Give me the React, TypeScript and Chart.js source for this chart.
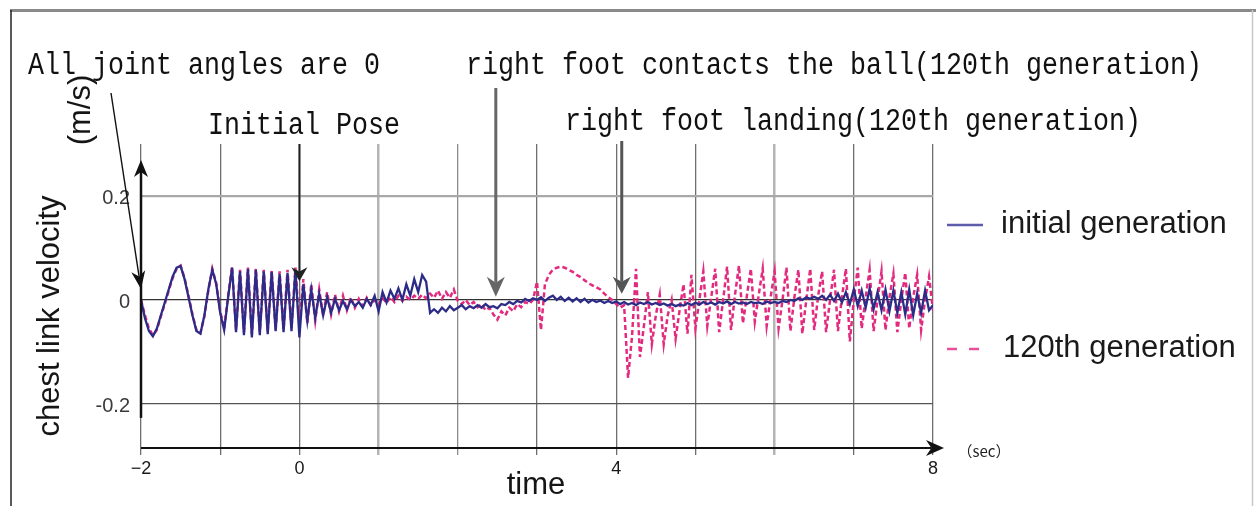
import React, { useEffect, useRef } from 'react';
import { Chart, registerables } from 'chart.js';

Chart.register(...registerables);

// ---- data ----
const startTime = -2; // sec
const sampleStep = 0.05; // sec
const seriesNames = ['initial generation', '120th generation'];

const initialVelocity = [
  0, -0.035, -0.06, -0.07, -0.055, -0.03, -0.005, 0.02, 0.045, 0.062,
  0.065, 0.04, 0.005, -0.03, -0.06, -0.065, -0.03, 0.02, 0.058, 0.03,
  -0.025, -0.058, 0.005, 0.062, -0.062, 0.055, -0.068, 0.06, -0.072, 0.058,
  -0.068, 0.055, -0.066, 0.054, -0.06, 0.05, -0.062, 0.052, -0.06, 0.058,
  -0.072, 0.03, -0.04, 0.02, -0.035, 0.012, -0.03, 0.005, -0.025, 0.002,
  -0.02, -0.002, -0.018, 0, -0.012, -0.004, -0.015, 0.002, -0.01, 0.008,
  -0.022, 0.015, -0.005, 0.018, 0.002, 0.022, 0, 0.03, 0.008, 0.04,
  0.015, 0.048, 0.035, -0.025, -0.018, -0.025, -0.015, -0.022, -0.012, -0.02,
  -0.015, -0.01, -0.018, -0.012, -0.016, -0.01, -0.015, -0.008, -0.014, -0.012,
  -0.016, -0.008, -0.01, -0.004, -0.008, -0.002, -0.005, 0.002, -0.002, 0.003,
  0, 0.005, -0.002, 0.004, 0.008, 0, 0.006, -0.002, 0.004, -0.003,
  0.003, -0.004, 0.002, -0.005, 0, -0.004, -0.001, -0.006, -0.002, -0.006,
  -0.003, -0.008, -0.004, -0.009, -0.006, -0.01, -0.005, -0.008, -0.004, -0.009,
  -0.006, -0.01, -0.007, -0.011, -0.008, -0.012, -0.009, -0.011, -0.006, -0.01,
  -0.005, -0.009, -0.004, -0.008, -0.005, -0.009, -0.004, -0.007, -0.003, -0.008,
  -0.004, -0.007, -0.005, -0.008, -0.004, -0.006, -0.005, -0.008, -0.003, -0.006,
  -0.004, -0.006, -0.002, -0.004, 0, -0.002, 0.003, 0, 0.005, 0.002,
  0.006, 0.002, 0.008, 0, 0.01, -0.002, 0.012, -0.005, 0.015, -0.008,
  0.02, -0.012, 0.018, -0.015, 0.022, -0.018, 0.015, -0.02, 0.02, -0.022,
  0.018, -0.025, 0.015, -0.028, 0.02, -0.03, 0.012, -0.025, 0.018, -0.02,
  -0.01,
];

const gen120Velocity = [
  0, -0.03, -0.055, -0.068, -0.058, -0.032, -0.008, 0.018, 0.042, 0.06,
  0.066, 0.042, 0.008, -0.028, -0.058, -0.064, -0.032, 0.018, 0.06, 0.032,
  -0.022, -0.055, 0.008, 0.064, -0.058, 0.058, -0.062, 0.062, -0.066, 0.06,
  -0.062, 0.058, -0.06, 0.056, -0.058, 0.055, -0.058, 0.058, -0.055, 0.062,
  -0.05, 0.04, -0.045, 0.03, -0.04, 0.02, -0.03, 0.015, -0.028, 0.01,
  -0.022, 0.008, -0.02, 0.005, -0.015, 0.002, -0.012, 0.004, -0.01, 0,
  -0.008, 0.004, -0.006, 0.006, -0.004, 0.008, -0.002, 0.006, 0, 0.008,
  0.002, 0.01, 0.003, 0.012, 0.004, 0.018, 0.002, 0.015, 0.004, 0.02,
  -0.002, -0.008, 0, -0.01, -0.004, -0.014, -0.008, -0.02, -0.015, -0.028,
  -0.038, -0.022, -0.03, -0.015, -0.022, -0.008, -0.014, -0.004, -0.008, 0,
  0.035, -0.058, 0.03, 0.048, 0.058, 0.062, 0.064, 0.062, 0.058, 0.054,
  0.048, 0.044, 0.038, 0.032, 0.028, 0.024, 0.02, 0.012, 0.005, 0,
  -0.008, -0.015, -0.01, -0.15, -0.07, 0.06, -0.11, -0.05, 0.015, -0.085,
  -0.03, 0.01, -0.085, -0.03, 0, -0.075, -0.02, 0.03, -0.065, 0.048,
  -0.055, 0, 0.055, -0.05, 0.005, 0.06, -0.062, 0, 0.064, -0.058,
  0.01, 0.066, -0.045, 0.008, 0.06, -0.042, 0.01, 0.06, -0.05, 0.005,
  0.055, -0.055, 0, 0.062, -0.06, 0.005, 0.058, -0.065, 0, 0.06,
  -0.058, 0.008, 0.055, -0.062, 0, 0.058, -0.06, 0.005, 0.06, -0.08,
  0, 0.062, -0.055, 0.005, 0.058, -0.06, 0, 0.055, -0.058, 0.005,
  0.05, -0.062, 0, 0.052, -0.055, 0.005, 0.048, -0.058, 0, 0.045,
  -0.02,
];

const xGridTimes = [-2, -1, 0, 1, 2, 3, 4, 5, 6, 7, 8];
const xLabeledTimes = [-2, 0, 4, 8];
const xTickLabels = ['\u22122', '0', '4', '8'];
const yTickValues = [-0.2, 0, 0.2];
const yTickLabels = ['-0.2', '0', '0.2'];

const yAxisTitle = 'chest link velocity';
const yAxisUnit = '(m/s)';
const xAxisTitle = 'time';
const xAxisUnit = '\uff08sec\uff09';

const eventNames = [
  'All joint angles are 0',
  'Initial Pose',
  'right foot contacts the ball(120th generation)',
  'right foot landing(120th generation)',
];
const eventTimes = [-2, 0, 2.48, 4.07];
const eventTipValues = [0.021, 0.036, 0.006, 0.012];

// ---- colours ----
const BLUE = '#2c2c88';
const PINK = '#e22a7f';

function drawArrow(
  ctx: CanvasRenderingContext2D,
  x1: number, y1: number, x2: number, y2: number,
  lw: number, color: string, headLen: number, headHalf: number
) {
  const ang = Math.atan2(y2 - y1, x2 - x1);
  const c = Math.cos(ang), s = Math.sin(ang);
  const bx = x2 - headLen * c, by = y2 - headLen * s;
  ctx.save();
  ctx.strokeStyle = color;
  ctx.lineWidth = lw;
  ctx.beginPath();
  ctx.moveTo(x1, y1);
  ctx.lineTo(bx + headLen * 0.3 * c, by + headLen * 0.3 * s);
  ctx.stroke();
  ctx.fillStyle = color;
  ctx.beginPath();
  ctx.moveTo(x2, y2);
  ctx.lineTo(bx + headHalf * s, by - headHalf * c);
  ctx.lineTo(bx + headLen * 0.3 * c, by + headLen * 0.3 * s);
  ctx.lineTo(bx - headHalf * s, by + headHalf * c);
  ctx.closePath();
  ctx.fill();
  ctx.restore();
}

function monoText(ctx: CanvasRenderingContext2D, text: string, x: number, y: number) {
  ctx.save();
  ctx.translate(x, y);
  ctx.scale(0.86, 1);
  ctx.font = "31px 'Liberation Mono'";
  ctx.fillStyle = '#111';
  ctx.textAlign = 'left';
  ctx.textBaseline = 'alphabetic';
  ctx.fillText(text, 0, 0);
  ctx.restore();
}

const decorPlugin = {
  id: 'decor',
  afterDraw(chart: any) {
    const ctx: CanvasRenderingContext2D = chart.ctx;
    const xs = chart.scales.x;
    const ys = chart.scales.y;
    const area = chart.chartArea;
    const W = chart.width;
    const H = chart.height;

    ctx.save();
    // outer frame
    ctx.strokeStyle = '#8a8a8a';
    ctx.lineWidth = 3;
    ctx.beginPath(); ctx.moveTo(10, 10.5); ctx.lineTo(W, 10.5); ctx.stroke();
    ctx.strokeStyle = '#222';
    ctx.lineWidth = 1.5;
    ctx.beginPath(); ctx.moveTo(11, 10); ctx.lineTo(11, H); ctx.stroke();
    ctx.strokeStyle = '#c8c8c8';
    ctx.lineWidth = 1.5;
    ctx.beginPath(); ctx.moveTo(W - 3.5, 10); ctx.lineTo(W - 3.5, H); ctx.stroke();

    // x axis with arrow
    const x0 = xs.getPixelForValue(startTime);
    drawArrow(ctx, x0, area.bottom, xs.getPixelForValue(8) + 11, area.bottom, 2, '#111', 18, 8);
    // y axis arrow
    drawArrow(ctx, x0, ys.getPixelForValue(-0.227), x0, ys.getPixelForValue(0.269), 2.5, '#111', 17, 7);

    // event annotations
    drawArrow(ctx, 111, 93, xs.getPixelForValue(eventTimes[0]), ys.getPixelForValue(eventTipValues[0]), 1.4, '#111', 18, 7);
    monoText(ctx, eventNames[0], 28, 74);
    const ipx = xs.getPixelForValue(eventTimes[1]);
    drawArrow(ctx, ipx, area.top, ipx, ys.getPixelForValue(eventTipValues[1]), 2, '#222', 14, 8);
    monoText(ctx, eventNames[1], 208, 134);
    const cbx = xs.getPixelForValue(eventTimes[2]);
    drawArrow(ctx, cbx, 88, cbx, ys.getPixelForValue(eventTipValues[2]), 3, '#666', 20, 9);
    monoText(ctx, eventNames[2], 466, 74);
    const ldx = xs.getPixelForValue(eventTimes[3]);
    drawArrow(ctx, ldx, 141, ldx, ys.getPixelForValue(eventTipValues[3]), 3, '#555', 17, 9);
    monoText(ctx, eventNames[3], 565, 130);

    // axis titles
    ctx.fillStyle = '#151515';
    ctx.font = "31px 'Liberation Sans'";
    ctx.textBaseline = 'alphabetic';
    ctx.textAlign = 'center';
    ctx.save();
    ctx.translate(59, 316);
    ctx.rotate(-Math.PI / 2);
    ctx.fillText(yAxisTitle, 0, 0);
    ctx.restore();
    ctx.save();
    ctx.translate(90, 110);
    ctx.rotate(-Math.PI / 2);
    ctx.fillText(yAxisUnit, 0, 0);
    ctx.restore();
    ctx.fillText(xAxisTitle, 536, 494);
    ctx.font = "15px 'Noto Sans CJK JP'";
    ctx.textBaseline = 'middle';
    ctx.fillStyle = '#222';
    ctx.fillText(xAxisUnit, 984, 451);

    // legend
    ctx.textAlign = 'left';
    ctx.textBaseline = 'alphabetic';
    ctx.lineWidth = 2.5;
    ctx.strokeStyle = '#5c5cab';
    ctx.beginPath(); ctx.moveTo(947, 225); ctx.lineTo(983, 225); ctx.stroke();
    ctx.strokeStyle = '#e6509a';
    ctx.setLineDash([10, 12]);
    ctx.beginPath(); ctx.moveTo(947, 349); ctx.lineTo(983, 349); ctx.stroke();
    ctx.setLineDash([]);
    ctx.font = "31px 'Liberation Sans'";
    ctx.fillStyle = '#1a1a1a';
    ctx.fillText(seriesNames[0], 1001, 233);
    ctx.fillText(seriesNames[1], 1003, 357);
    ctx.restore();
  },
};

const xGridColor = (v: number) => {
  if (v === 1 || v === 6) return '#b4b4b4';
  if (v === 2) return '#8c8c8c';
  return '#6e6e6e';
};
const xGridWidth = (v: number) => (v === 1 || v === 6 ? 2.5 : 1.3);

const Y_AXIS_W = 100;
const X_AXIS_H = 40;

export default function App() {
  const ref = useRef<HTMLCanvasElement | null>(null);
  useEffect(() => {
    if (!ref.current) return;
    const toPoints = (vals: number[]) => vals.map((v, i) => ({ x: startTime + i * sampleStep, y: v }));
    const chart = new Chart(ref.current, {
      type: 'line',
      data: {
        datasets: [
          {
            label: seriesNames[0],
            data: toPoints(initialVelocity),
            borderColor: BLUE,
            borderWidth: 2.3,
            pointRadius: 0,
            tension: 0,
            fill: false,
          },
          {
            label: seriesNames[1],
            data: toPoints(gen120Velocity),
            borderColor: PINK,
            borderWidth: 2.5,
            borderDash: [5, 3],
            pointRadius: 0,
            tension: 0,
            fill: false,
          },
        ],
      },
      options: {
        animation: false,
        responsive: false,
        events: [],
        layout: { padding: { left: 141 - Y_AXIS_W, right: 323, top: 144, bottom: 58 - X_AXIS_H } },
        plugins: {
          legend: { display: false },
          tooltip: { enabled: false },
          title: { display: false },
        },
        scales: {
          x: {
            type: 'linear',
            min: -2,
            max: 8,
            afterFit: (s: any) => { s.height = X_AXIS_H; },
            afterBuildTicks: (s: any) => { s.ticks = xGridTimes.map((v) => ({ value: v })); },
            ticks: {
              autoSkip: false,
              maxRotation: 0,
              padding: 3,
              color: '#1a1a1a',
              font: { family: "'Liberation Sans'", size: 18 },
              callback: (v: any) => {
                const i = xLabeledTimes.indexOf(Number(v));
                return i >= 0 ? xTickLabels[i] : '';
              },
            },
            grid: {
              drawTicks: true,
              tickLength: 7,
              color: (c: any) => xGridColor(c.tick ? c.tick.value : 0),
              tickColor: (c: any) => xGridColor(c.tick ? c.tick.value : 0),
              lineWidth: (c: any) => xGridWidth(c.tick ? c.tick.value : 0),
            },
            border: { display: false },
          },
          y: {
            type: 'linear',
            min: -0.285,
            max: 0.3,
            afterFit: (s: any) => { s.width = Y_AXIS_W; },
            afterBuildTicks: (s: any) => { s.ticks = yTickValues.map((v) => ({ value: v })); },
            ticks: {
              autoSkip: false,
              padding: 11,
              labelOffset: 3,
              color: '#3a3a3a',
              font: { family: "'Liberation Sans'", size: 20 },
              callback: (v: any) => {
                const i = yTickValues.indexOf(Number(v));
                return i >= 0 ? yTickLabels[i] : '';
              },
            },
            grid: {
              drawTicks: false,
              color: (c: any) => {
                const v = c.tick ? c.tick.value : 0;
                return v === 0.2 ? '#a8a8a8' : v === 0 ? '#333' : '#555';
              },
              lineWidth: (c: any) => {
                const v = c.tick ? c.tick.value : 0;
                return v === 0.2 ? 2.2 : 1.2;
              },
            },
            border: { display: false },
          },
        },
      },
      plugins: [decorPlugin],
    });
    return () => chart.destroy();
  }, []);

  return (
    <div style={{ position: 'fixed', left: 0, top: 0, width: 1256, height: 506, background: '#fff' }}>
      <canvas ref={ref} width={1256} height={506} style={{ width: 1256, height: 506, display: 'block' }} />
    </div>
  );
}
